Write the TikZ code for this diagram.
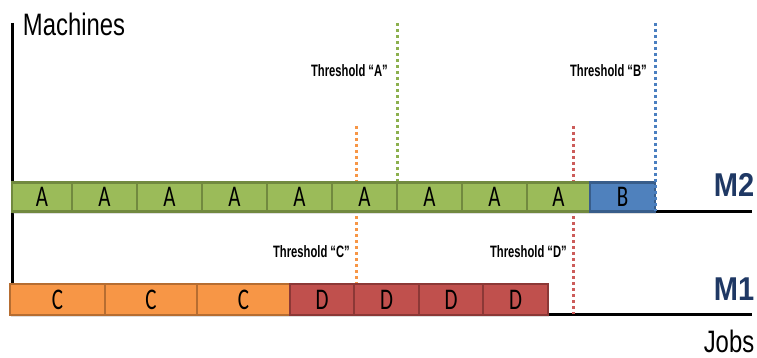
\documentclass[tikz,border=0pt]{standalone}
\usepackage{fontspec}
\setmainfont{Liberation Sans}
\newfontfamily\narrowfont[FakeStretch=0.77]{Liberation Sans}
\newfontfamily\tinyfont[FakeStretch=0.68]{Liberation Sans}
\newfontfamily\machfont[FakeStretch=0.88]{Liberation Sans}
\newfontfamily\jobfont[FakeStretch=0.7]{Carlito}
\definecolor{gfill}{HTML}{9BBB59}
\definecolor{gline}{HTML}{71893F}
\definecolor{gdot}{HTML}{8CB04E}
\definecolor{bfill}{HTML}{4F81BD}
\definecolor{bline}{HTML}{385D8A}
\definecolor{bdot}{HTML}{4A7FC0}
\definecolor{ofill}{HTML}{F79646}
\definecolor{oline}{HTML}{B66D31}
\definecolor{rfill}{HTML}{C0504D}
\definecolor{rline}{HTML}{8C3836}
\definecolor{rdot}{HTML}{CC5C5A}
\definecolor{navy}{HTML}{1F3864}
\usetikzlibrary{shadows}
\tikzset{
  jobbox/.style={draw, line width=2.5pt, inner sep=0pt, minimum height=#1,
    font=\jobfont\fontsize{30}{30}\selectfont,
    drop shadow={shadow xshift=1pt, shadow yshift=-2pt, opacity=0.25}},
  gbox/.style={jobbox=29pt, fill=gfill, draw=gline},
  bbox/.style={jobbox=29pt, fill=bfill, draw=bline},
  obox/.style={jobbox=31pt, fill=ofill, draw=oline},
  rbox/.style={jobbox=31pt, fill=rfill, draw=rline},
  axisline/.style={line width=3pt, black},
  thresh/.style={line width=3pt, dash pattern=on 3pt off 3pt},
  tlabel/.style={inner sep=0pt, anchor=east, font=\tinyfont\bfseries\fontsize{16.5}{17}\selectfont},
  axislabel/.style={inner sep=0pt, font=\narrowfont\fontsize{31}{32}\selectfont},
  machlabel/.style={inner sep=0pt, text=navy, font=\machfont\bfseries\fontsize{33}{34}\selectfont}
}
\begin{document}
\begin{tikzpicture}[x=1pt, y=-1pt]
\useasboundingbox (0,0) rectangle (757,358);

% axes
\coordinate (o2) at (12,211.5);
\coordinate (e2) at (752,211.5);
\coordinate (o1) at (12,314.5);
\coordinate (e1) at (752,314.5);
\coordinate (ytop) at (12,23);
\coordinate (ybot) at (12,316);
\draw[axisline] (ytop) -- (ybot);
\draw[axisline] (o2) -- (e2);
\draw[axisline] (o1) -- (e1);

% threshold lines lying behind the job bars
\coordinate (tc1) at (356,126); \coordinate (tc2) at (356,283);
\coordinate (td1) at (573,126); \coordinate (td2) at (573,314);
\coordinate (ta1) at (397,23);  \coordinate (ta2) at (397,183);
\draw[thresh, ofill] (tc1) -- (tc2);
\draw[thresh, rdot] (td1) -- (td2);
\draw[thresh, gdot] (ta1) -- (ta2);

% machine M2
\node[gbox, minimum width=60pt] (a1) at (42,197) {A};
\node[gbox, minimum width=65pt] (a2) at (104.5,197) {A};
\node[gbox, minimum width=65pt] (a3) at (169.5,197) {A};
\node[gbox, minimum width=65pt] (a4) at (234.5,197) {A};
\node[gbox, minimum width=65pt] (a5) at (299.5,197) {A};
\node[gbox, minimum width=65pt] (a6) at (364.5,197) {A};
\node[gbox, minimum width=65pt] (a7) at (429.5,197) {A};
\node[gbox, minimum width=65pt] (a8) at (494.5,197) {A};
\node[gbox, minimum width=63pt] (a9) at (558.5,197) {A};
\node[bbox, minimum width=65pt] (b1) at (622.5,197) {B};

% machine M1
\node[obox, minimum width=95pt] (c1) at (57.5,299.5) {C};
\node[obox, minimum width=92pt] (c2) at (151,299.5) {C};
\node[obox, minimum width=93pt] (c3) at (243.5,299.5) {C};
\node[rbox, minimum width=64pt] (d1) at (322,299.5) {D};
\node[rbox, minimum width=65pt] (d2) at (386.5,299.5) {D};
\node[rbox, minimum width=64pt] (d3) at (451,299.5) {D};
\node[rbox, minimum width=65pt] (d4) at (515.5,299.5) {D};

% threshold B in front of the bar
\coordinate (tb1) at (655,23); \coordinate (tb2) at (655,211);
\draw[thresh, bdot] (tb1) -- (tb2);

% labels
\node[tlabel] (la) at (388,71) {Threshold “A”};
\node[tlabel] (lb) at (647,71) {Threshold “B”};
\node[tlabel] (lc) at (350,252) {Threshold “C”};
\node[tlabel] (ld) at (567,252) {Threshold “D”};

\node[axislabel] (mach) at (74,24) {Machines};
\node[axislabel, anchor=base] (jobs) at (729,352) {Jobs};
\node[machlabel] (m2) at (734,185) {M2};
\node[machlabel] (m1) at (734,289) {M1};
\end{tikzpicture}
\end{document}
